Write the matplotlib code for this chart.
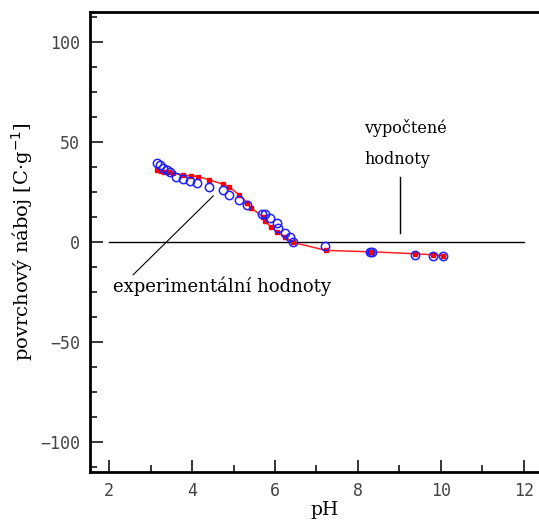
import matplotlib
matplotlib.use('Agg')
import matplotlib.pyplot as plt
from matplotlib.ticker import MultipleLocator

# experimentalni hodnoty (modre krouzky)
ph_exp = [3.16, 3.23, 3.31, 3.39, 3.47, 3.61, 3.78, 3.95, 4.13, 4.40, 4.74, 4.90,
          5.13, 5.32, 5.69, 5.77, 5.88, 6.04, 6.08, 6.25, 6.36, 6.43, 7.21, 8.29,
          8.35, 9.38, 9.80, 10.06]
q_exp = [39.3, 38.1, 36.8, 35.6, 34.6, 32.6, 31.3, 30.6, 29.6, 27.6, 25.9, 23.4,
         20.9, 18.5, 14.0, 14.0, 11.8, 9.3, 6.8, 4.6, 2.3, -0.3, -2.2, -5.0,
         -5.0, -6.5, -7.0, -7.0]

# vypoctene hodnoty (cervene ctverecky + cara)
ph_calc = [3.16, 3.25, 3.33, 3.43, 3.55, 3.79, 3.97, 4.15, 4.42, 4.74, 4.90, 5.14,
           5.32, 5.43, 5.72, 5.75, 5.90, 6.04, 6.25, 6.43, 7.23, 8.27, 8.34, 9.38,
           9.80, 10.06]
q_calc = [35.6, 35.3, 34.9, 34.6, 34.3, 33.3, 32.9, 32.6, 30.9, 28.8, 27.3, 23.4,
          19.6, 16.8, 12.3, 10.6, 7.3, 5.1, 2.3, -0.3, -4.3, -5.0, -5.0, -6.0,
          -6.5, -7.0]

xticks = [2, 4, 6, 8, 10, 12]
yticks = [-100, -50, 0, 50, 100]

serif = 'DejaVu Serif'

fig = plt.figure(figsize=(5.39, 5.24), dpi=100)
ax = fig.add_axes([90/539, 0.0992, 470/539, 0.8788])

ax.plot([2, 12], [0, 0], color='black', lw=1)
ax.plot(ph_calc, q_calc, color='#ff2020', lw=1.1, marker='s', ms=3.5,
        mec='#ff0000', mfc='#ff0000', zorder=3)
ax.plot(ph_exp, q_exp, ls='none', marker='o', ms=6, mfc='none',
        mec='#2020ff', mew=1.1, zorder=4)

# popisky
ax.plot([9.01, 9.01], [4.5, 32.4], color='black', lw=1)
ax.text(8.15, 56.9, 'vypočtené', family=serif, fontsize=11.5, va='center', ha='left')
ax.text(8.15, 40.9, 'hodnoty', family=serif, fontsize=11.5, va='center', ha='left')
ax.plot([4.51, 2.58], [22.9, -16.5], color='black', lw=0.8)
ax.text(2.1, -22.4, 'experimentální hodnoty', family=serif, fontsize=13,
        va='center', ha='left')

ax.set_xlim(1.54, 12.87)
ax.set_ylim(-115, 115)
ax.set_xticks(xticks)
ax.set_yticks(yticks)
ax.set_yticklabels(['\u2212100', '\u221250', '0', '50', '100'])
ax.xaxis.set_minor_locator(MultipleLocator(1))
ax.yaxis.set_minor_locator(MultipleLocator(12.5))
ax.tick_params(which='both', direction='in', labelsize=12, labelcolor='#444444',
               width=1.1, top=False, right=False)
ax.tick_params(which='major', length=9, pad=7)
ax.tick_params(which='minor', length=5)
for lab in ax.get_xticklabels() + ax.get_yticklabels():
    lab.set_family('DejaVu Sans Mono')

for s in ax.spines.values():
    s.set_linewidth(2)

ax.set_xlabel('pH', family=serif, fontsize=13.5, labelpad=1)
ax.set_ylabel('povrchový náboj [C·g$^{-1}$]', family=serif, fontsize=14, labelpad=4)

plt.savefig('out.png', dpi=100)
